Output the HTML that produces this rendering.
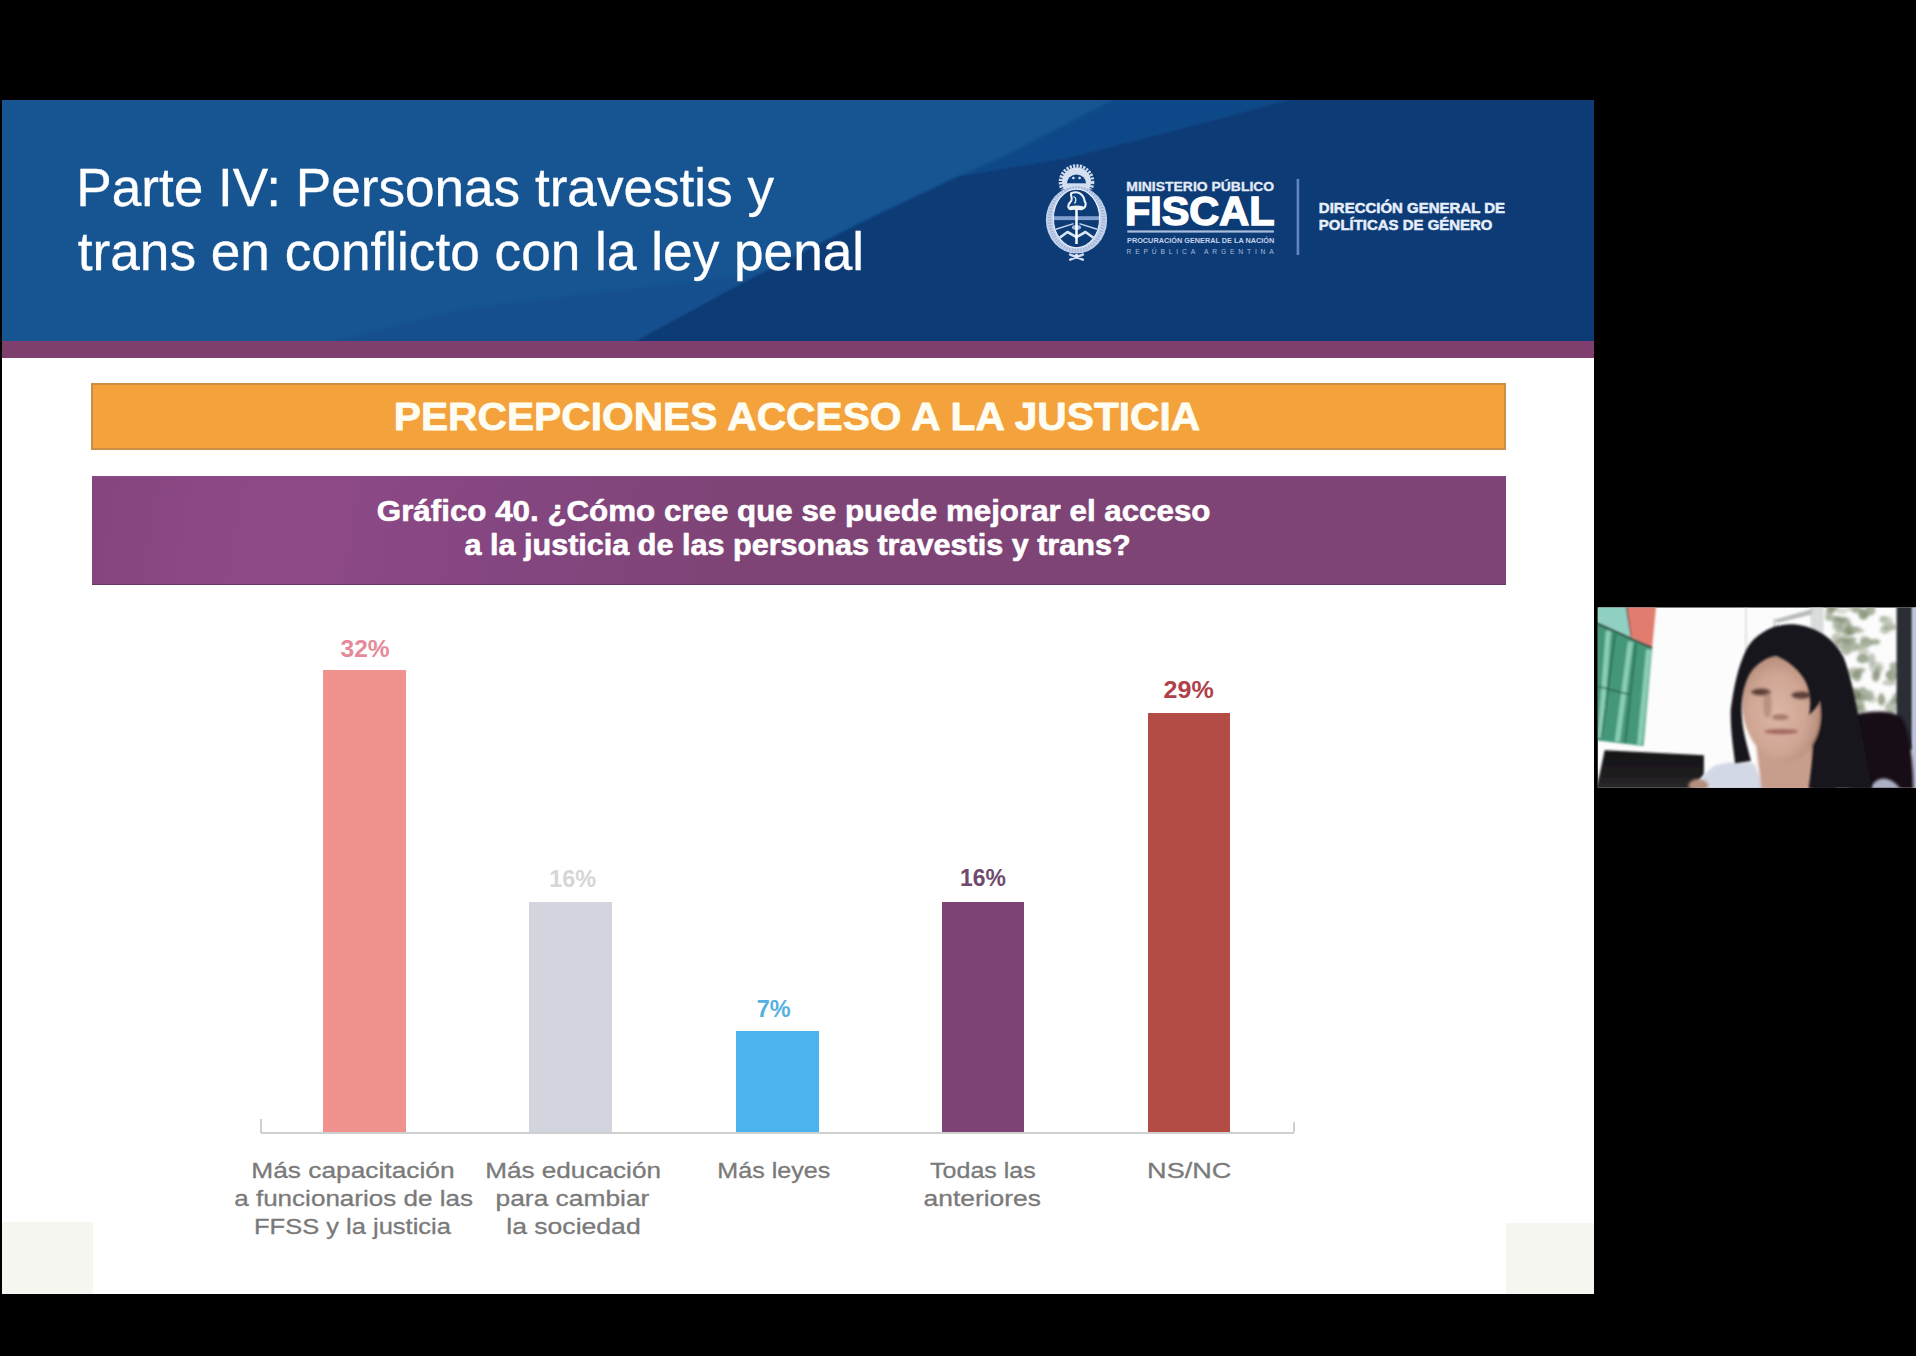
<!DOCTYPE html>
<html lang="es">
<head>
<meta charset="utf-8">
<title>Parte IV: Personas travestis y trans en conflicto con la ley penal</title>
<style>
  html,body{margin:0;padding:0;background:#000;}
  body{width:1916px;height:1356px;overflow:hidden;position:relative;font-family:"Liberation Sans",sans-serif;}
  #stage{position:absolute;left:0;top:0;width:1916px;height:1356px;background:#000;overflow:hidden;}
  #slide{position:absolute;left:2px;top:100px;width:1592px;height:1193.5px;background:#fff;overflow:hidden;}
  #hdr{position:absolute;left:0;top:0;width:1592px;height:242px;background:#165591;}
  #hdr svg{position:absolute;left:0;top:0;}
  #stripe{position:absolute;left:0;top:241px;width:1592px;height:16.8px;background:#7e3e6e;}
  .banner{position:absolute;box-sizing:border-box;}
  #orange{left:88.5px;top:283px;width:1415.5px;height:66.5px;background:#f4a23c;border:2px solid #cc8e44;}
  #purple{left:89.5px;top:376px;width:1414.5px;height:108.5px;background:linear-gradient(100deg,#86457f 0%,#8e4a88 14%,#844680 30%,#7f4476 45%,#7f4476 100%);border-bottom:1.5px solid #6a3a66;border-top:1px solid #8a4c84;}
  .bar{position:absolute;}
  .corner{position:absolute;background:#f6f6f0;}
  #axis{position:absolute;left:258.7px;top:1031.5px;width:1033.8px;height:2px;background:#cfcfcf;}
  .tick{position:absolute;width:2px;height:14px;top:1018.5px;background:#cfcfcf;}
  #texts{position:absolute;left:0;top:0;}
  #texts text{font-family:"Liberation Sans",sans-serif;white-space:pre;}
  #cam{position:absolute;left:1580px;top:590px;width:336px;height:220px;}
</style>
</head>
<body>
<div id="stage">
  <div id="slide">
    <div id="hdr">
      <svg width="1592" height="242" viewBox="2 100 1592 242">
        <defs><filter id="hb" x="-5%" y="-5%" width="110%" height="110%"><feGaussianBlur stdDeviation="1.2"/></filter></defs>
        <rect x="2" y="100" width="1592" height="242" fill="#165591"/>
        <g filter="url(#hb)">
        <polygon points="317,345 461,309 591,293.5 700,281 765,272 629,345" fill="#134f8e"/>
        <polygon points="629,345 737,286 860,223 959,176 1067,158 1180,129 1288,100 1288,90 1610,90 1610,345" fill="#083a76"/>
        <polygon points="959,176 1000,158 1113,100 1120,90 1288,90 1288,100 1180,129 1067,158" fill="#0d4888"/>
        </g>
      </svg>
    </div>
    <div id="stripe"></div>
    <div class="banner" id="orange"></div>
    <div class="banner" id="purple"></div>

    <div class="bar" style="left:321px;top:570px;width:83px;height:463px;background:#f0938e"></div>
    <div class="bar" style="left:527px;top:802.3px;width:83px;height:230.7px;background:#d3d5de"></div>
    <div class="bar" style="left:734px;top:931.4px;width:82.6px;height:101.6px;background:#4bb4ef"></div>
    <div class="bar" style="left:940.2px;top:801.5px;width:81.8px;height:231.5px;background:#7d4375"></div>
    <div class="bar" style="left:1146.2px;top:612.8px;width:82.2px;height:420.2px;background:#b24c44"></div>
    <div id="axis"></div>
    <div class="tick" style="left:257.7px"></div>
    <div class="tick" style="left:1290.5px;top:1022px;height:10px"></div>

    <div class="corner" style="left:0;top:1122px;width:91px;height:72px"></div>
    <div class="corner" style="left:1503.6px;top:1123px;width:89px;height:71px"></div>
  </div>

  <svg id="texts" width="1916" height="1356" viewBox="0 0 1916 1356">
    <g id="title">
<text id="t1" x="76.35" y="205.60" font-size="53.34" font-weight="normal" fill="#ffffff" textLength="697.65" lengthAdjust="spacingAndGlyphs" stroke="#ffffff" stroke-width="0.35">Parte IV: Personas travestis y</text>
<text id="t2" x="77.80" y="269.90" font-size="53.34" font-weight="normal" fill="#ffffff" textLength="786.31" lengthAdjust="spacingAndGlyphs" stroke="#ffffff" stroke-width="0.35">trans en conflicto con la ley penal</text>
    </g>
    <g id="logo">
      <g id="emblem">
        <defs>
          <clipPath id="sunclip"><rect x="1050" y="155" width="54" height="34.5"/></clipPath>
          <clipPath id="ovalclip"><ellipse cx="1076.5" cy="218.4" rx="22.6" ry="28.8"/></clipPath>
          <filter id="eb" x="-10%" y="-10%" width="120%" height="120%"><feGaussianBlur stdDeviation="0.45"/></filter>
        </defs>
        <g filter="url(#eb)">
        <!-- rising sun -->
        <g clip-path="url(#sunclip)">
          <circle cx="1076.5" cy="182" r="16" fill="none" stroke="#cfdbee" stroke-width="3.6" stroke-dasharray="2.2 1.2"/>
          <circle cx="1076.5" cy="182" r="14.6" fill="#d6e0f1"/>
          <circle cx="1076.5" cy="184.3" r="9.8" fill="#0b3f7e"/>
          <circle cx="1073.4" cy="178" r="1.25" fill="#e6edf8"/>
          <circle cx="1079.6" cy="178" r="1.25" fill="#e6edf8"/>
          <rect x="1064" y="183.3" width="25" height="6" fill="#d3def0"/>
        </g>
        <!-- laurel wreath -->
        <ellipse cx="1076.5" cy="220" rx="30.6" ry="33.6" fill="#c3d1ea"/>
        <ellipse cx="1076.5" cy="219.2" rx="27" ry="31.4" fill="none" stroke="#8ea9d3" stroke-width="3.6" stroke-dasharray="1.2 1.7" stroke-opacity="0.75"/>
        <ellipse cx="1076.5" cy="218.4" rx="23.1" ry="29.3" fill="#083a76" stroke="#e9eff9" stroke-width="1.1"/>
        <!-- shield contents -->
        <g clip-path="url(#ovalclip)">
          <rect x="1050" y="216.2" width="54" height="3.9" fill="#7f9fd0"/>
          <path d="M1054.3,229.8 L1073.6,223.6 M1079.4,223.6 L1098.7,229.8" stroke="#c9d6ec" stroke-width="1.5" fill="none"/>
          <path d="M1056.5,240 L1067.5,232 L1076.5,237.2 L1085.5,232 L1096.5,240" stroke="#dbe4f3" stroke-width="2.6" fill="none" stroke-linejoin="round"/>
          <ellipse cx="1076.5" cy="227.5" rx="4.6" ry="2.4" fill="#9fb6da"/>
        </g>
        <!-- pike -->
        <rect x="1075.25" y="207" width="2.5" height="37" fill="#ffffff"/>
        <!-- phrygian cap -->
        <path d="M1071.2,193.2 C1077.5,190.5 1083.5,194 1084.6,201 C1086.5,203.5 1086,208 1082,209 C1078.5,210 1075,207.5 1072.5,208.8 C1069.5,210 1067.5,207.5 1068.6,204.6 C1069.2,202.8 1071,202 1071.6,200 C1072.4,197.6 1070.2,195.5 1071.2,193.2 Z" fill="#0b3f7e" stroke="#edf2fa" stroke-width="2.1" stroke-linejoin="round"/>
        <path d="M1073.5,196.5 C1077,198 1076,201.5 1074.5,203.5" stroke="#edf2fa" stroke-width="1.3" fill="none"/>
        <ellipse cx="1076.6" cy="207.6" rx="7.6" ry="2.2" fill="#edf2fa"/>
        <!-- ribbon bow -->
        <path d="M1070.2,254.6 L1082.8,259.6 M1082.8,254.6 L1070.2,259.6" stroke="#cfdbee" stroke-width="2.6" stroke-linecap="round" fill="none"/>
        <circle cx="1076.5" cy="256.4" r="2.3" fill="#dfe7f5"/>
        </g>
      </g>

<text id="lg1" x="1126.33" y="190.90" font-size="12.79" font-weight="bold" fill="#e4ecf7" textLength="147.86" lengthAdjust="spacingAndGlyphs" stroke="#e4ecf7" stroke-width="0.3">MINISTERIO PÚBLICO</text>
<text id="lg2" x="1124.91" y="225.40" font-size="40.99" font-weight="bold" fill="#ffffff" textLength="149.60" lengthAdjust="spacingAndGlyphs" stroke="#ffffff" stroke-width="1.5" paint-order="stroke" stroke-linejoin="miter">FISCAL</text>
<text id="lg3" x="1127.04" y="243.30" font-size="6.54" font-weight="bold" fill="#c5d3ea" textLength="147.23" lengthAdjust="spacingAndGlyphs">PROCURACIÓN GENERAL DE LA NACIÓN</text>
<text id="lg4" x="1126.52" y="254.00" font-size="6.69" font-weight="normal" fill="#a9bcdc" textLength="147.22" lengthAdjust="spacing">REPÚBLICA ARGENTINA</text>
<text id="lg5" x="1318.86" y="212.80" font-size="14.83" font-weight="bold" fill="#e6eefa" textLength="186.23" lengthAdjust="spacingAndGlyphs" stroke="#e6eefa" stroke-width="0.5">DIRECCIÓN GENERAL DE</text>
<text id="lg6" x="1318.87" y="230.30" font-size="14.83" font-weight="bold" fill="#e6eefa" textLength="173.55" lengthAdjust="spacingAndGlyphs" stroke="#e6eefa" stroke-width="0.5">POLÍTICAS DE GÉNERO</text>
      <rect x="1127.3" y="230.4" width="146.6" height="2.2" fill="#a9bedd"/>
      <rect x="1296.6" y="179" width="2.6" height="76" fill="#5f86be"/>
    </g>
    <g id="banners">
<text id="b1" x="393.77" y="429.80" font-size="39.53" font-weight="bold" fill="#fffdf2" textLength="806.50" lengthAdjust="spacingAndGlyphs" stroke="#fffdf2" stroke-width="0.8" stroke-linejoin="round">PERCEPCIONES ACCESO A LA JUSTICIA</text>
<text id="b2" x="376.82" y="521.40" font-size="29.07" font-weight="bold" fill="#ffffff" textLength="833.70" lengthAdjust="spacingAndGlyphs" stroke="#ffffff" stroke-width="0.6" stroke-linejoin="round">Gráfico 40. ¿Cómo cree que se puede mejorar el acceso</text>
<text id="b3" x="464.52" y="555.30" font-size="29.07" font-weight="bold" fill="#ffffff" textLength="666.06" lengthAdjust="spacingAndGlyphs" stroke="#ffffff" stroke-width="0.6" stroke-linejoin="round">a la justicia de las personas travestis y trans?</text>
    </g>
    <g id="values">
<text id="v1" x="340.52" y="656.80" font-size="24.42" font-weight="bold" fill="#e58a9a" textLength="49.13" lengthAdjust="spacingAndGlyphs">32%</text>
<text id="v2" x="549.24" y="887.20" font-size="24.42" font-weight="bold" fill="#d6d6d6" textLength="46.90" lengthAdjust="spacingAndGlyphs">16%</text>
<text id="v3" x="756.67" y="1016.80" font-size="24.42" font-weight="bold" fill="#56b0e0" textLength="33.86" lengthAdjust="spacingAndGlyphs">7%</text>
<text id="v4" x="960.07" y="885.50" font-size="24.42" font-weight="bold" fill="#6e4a6e" textLength="45.86" lengthAdjust="spacingAndGlyphs">16%</text>
<text id="v5" x="1163.52" y="698.40" font-size="24.42" font-weight="bold" fill="#b0404a" textLength="50.24" lengthAdjust="spacingAndGlyphs">29%</text>
    </g>
    <g id="axislabels">
<text id="a1" x="251.34" y="1177.70" font-size="21.80" font-weight="normal" fill="#7a7a7a" textLength="203.23" lengthAdjust="spacingAndGlyphs" stroke="#7a7a7a" stroke-width="0.3">Más capacitación</text>
<text id="a2" x="234.19" y="1206.40" font-size="21.80" font-weight="normal" fill="#7a7a7a" textLength="238.83" lengthAdjust="spacingAndGlyphs" stroke="#7a7a7a" stroke-width="0.3">a funcionarios de las</text>
<text id="a3" x="254.01" y="1233.80" font-size="21.80" font-weight="normal" fill="#7a7a7a" textLength="196.93" lengthAdjust="spacingAndGlyphs" stroke="#7a7a7a" stroke-width="0.3">FFSS y la justicia</text>
<text id="a4" x="485.16" y="1177.70" font-size="21.80" font-weight="normal" fill="#7a7a7a" textLength="175.81" lengthAdjust="spacingAndGlyphs" stroke="#7a7a7a" stroke-width="0.3">Más educación</text>
<text id="a5" x="495.55" y="1206.40" font-size="21.80" font-weight="normal" fill="#7a7a7a" textLength="153.78" lengthAdjust="spacingAndGlyphs" stroke="#7a7a7a" stroke-width="0.3">para cambiar</text>
<text id="a6" x="506.24" y="1233.80" font-size="21.80" font-weight="normal" fill="#7a7a7a" textLength="134.45" lengthAdjust="spacingAndGlyphs" stroke="#7a7a7a" stroke-width="0.3">la sociedad</text>
<text id="a7" x="717.34" y="1177.70" font-size="21.80" font-weight="normal" fill="#7a7a7a" textLength="112.94" lengthAdjust="spacingAndGlyphs" stroke="#7a7a7a" stroke-width="0.3">Más leyes</text>
<text id="a8" x="930.11" y="1177.70" font-size="21.80" font-weight="normal" fill="#7a7a7a" textLength="105.67" lengthAdjust="spacingAndGlyphs" stroke="#7a7a7a" stroke-width="0.3">Todas las</text>
<text id="a9" x="923.58" y="1206.40" font-size="21.80" font-weight="normal" fill="#7a7a7a" textLength="117.25" lengthAdjust="spacingAndGlyphs" stroke="#7a7a7a" stroke-width="0.3">anteriores</text>
<text id="a10" x="1147.08" y="1177.70" font-size="21.80" font-weight="normal" fill="#7a7a7a" textLength="84.25" lengthAdjust="spacingAndGlyphs" stroke="#7a7a7a" stroke-width="0.3">NS/NC</text>
    </g>
  </svg>

  <svg id="cam" width="336" height="220" viewBox="1580 590 336 220">
    <defs>
      <clipPath id="camclip"><rect x="1597.8" y="607.5" width="318.2" height="180.3"/></clipPath>
      <filter id="cb1" x="-10%" y="-10%" width="120%" height="120%"><feGaussianBlur stdDeviation="7"/></filter>
      <filter id="cb2" x="-20%" y="-20%" width="140%" height="140%"><feGaussianBlur stdDeviation="12"/></filter>
      <filter id="cb3" x="-20%" y="-20%" width="140%" height="140%"><feGaussianBlur stdDeviation="22"/></filter>
      <linearGradient id="mon" x1="0" y1="0" x2="0" y2="1"><stop offset="0" stop-color="#141416"/><stop offset="0.6" stop-color="#1d1c1f"/><stop offset="1" stop-color="#2b292b"/></linearGradient>
      <radialGradient id="face" cx="0.45" cy="0.55" r="0.6"><stop offset="0" stop-color="#dcb7a6"/><stop offset="0.6" stop-color="#cfa593"/><stop offset="1" stop-color="#b08774"/></radialGradient>
    </defs>
    <g clip-path="url(#camclip)">
      <rect x="1597" y="607" width="320" height="182" fill="#fcfcfc"/>
      <!-- left half : painting, wall, monitor -->
      <g transform="translate(1590,600) scale(0.14382)">
        <g filter="url(#cb1)">
          <polygon points="40,40 255,40 278,255 40,150" fill="#8fd0c2"/>
          <polygon points="252,40 460,40 432,328 285,255" fill="#e07d6e"/>
          <polygon points="40,158 432,332 372,1016 40,976" fill="#45977a"/>
          <g stroke="#9adcc2" stroke-width="36" fill="none" stroke-opacity="0.8">
            <path d="M128,215 L70,960"/>
            <path d="M282,290 L190,985"/>
            <path d="M408,345 L345,1005"/>
          </g>
          <g stroke="#1f5c46" stroke-width="9" fill="none">
            <path d="M175,235 L80,965"/>
            <path d="M320,300 L245,995"/>
            <path d="M55,600 L275,658"/>
          </g>
          <path d="M40,158 L432,332" stroke="#12241e" stroke-width="13" fill="none"/>
          <path d="M253,45 L285,255" stroke="#5a2e2a" stroke-width="8" fill="none"/>
          <polygon points="102,1044 792,1080 792,1218 700,1320 40,1320 70,1200" fill="url(#mon)"/>
        </g>
      </g>
      <!-- right half : window, tree, person -->
      <g transform="translate(1720,600) scale(0.1438)">
        <!-- window frame hints -->
        <g filter="url(#cb1)">
          <rect x="176" y="40" width="10" height="400" fill="#d6d8d6"/>
          <rect x="628" y="40" width="92" height="300" fill="#d9dcdc"/>
          <path d="M380,135 L640,62 L640,100 L400,160 Z" fill="#b9bdb9"/>
          <rect x="372" y="130" width="14" height="120" fill="#c5c8c5"/>
        </g>
        <!-- foliage -->
        <g filter="url(#cb2)">
          <ellipse cx="847" cy="77" rx="43" ry="20" fill="#b0b8a4" fill-opacity="0.49"/>
          <ellipse cx="925" cy="214" rx="29" ry="20" fill="#7a866c" fill-opacity="0.48"/>
          <ellipse cx="777" cy="126" rx="49" ry="21" fill="#96a189" fill-opacity="0.70"/>
          <ellipse cx="925" cy="61" rx="41" ry="19" fill="#96a189" fill-opacity="0.47"/>
          <ellipse cx="1008" cy="102" rx="27" ry="21" fill="#a3ad98" fill-opacity="0.67"/>
          <ellipse cx="955" cy="69" rx="41" ry="23" fill="#87937a" fill-opacity="0.67"/>
          <ellipse cx="769" cy="61" rx="29" ry="36" fill="#7a866c" fill-opacity="0.76"/>
          <ellipse cx="890" cy="216" rx="34" ry="25" fill="#96a189" fill-opacity="0.73"/>
          <ellipse cx="823" cy="153" rx="39" ry="42" fill="#7a866c" fill-opacity="0.57"/>
          <ellipse cx="1044" cy="71" rx="36" ry="38" fill="#96a189" fill-opacity="0.82"/>
          <ellipse cx="877" cy="223" rx="25" ry="33" fill="#a3ad98" fill-opacity="0.59"/>
          <ellipse cx="855" cy="139" rx="48" ry="20" fill="#87937a" fill-opacity="0.83"/>
          <ellipse cx="892" cy="170" rx="24" ry="37" fill="#b0b8a4" fill-opacity="0.85"/>
          <ellipse cx="997" cy="101" rx="35" ry="36" fill="#87937a" fill-opacity="0.83"/>
          <ellipse cx="925" cy="327" rx="38" ry="24" fill="#a3ad98" fill-opacity="0.50"/>
          <ellipse cx="899" cy="274" rx="51" ry="20" fill="#7a866c" fill-opacity="0.61"/>
          <ellipse cx="907" cy="213" rx="36" ry="33" fill="#7a866c" fill-opacity="0.84"/>
          <ellipse cx="1004" cy="271" rx="30" ry="20" fill="#96a189" fill-opacity="0.54"/>
          <ellipse cx="896" cy="296" rx="41" ry="25" fill="#87937a" fill-opacity="0.51"/>
          <ellipse cx="968" cy="326" rx="33" ry="21" fill="#b0b8a4" fill-opacity="0.83"/>
          <ellipse cx="997" cy="358" rx="37" ry="42" fill="#b0b8a4" fill-opacity="0.61"/>
          <ellipse cx="936" cy="205" rx="43" ry="20" fill="#87937a" fill-opacity="0.84"/>
          <ellipse cx="946" cy="206" rx="42" ry="21" fill="#b0b8a4" fill-opacity="0.51"/>
          <ellipse cx="864" cy="267" rx="23" ry="42" fill="#b0b8a4" fill-opacity="0.60"/>
          <ellipse cx="992" cy="409" rx="42" ry="31" fill="#87937a" fill-opacity="0.79"/>
          <ellipse cx="1078" cy="292" rx="38" ry="20" fill="#87937a" fill-opacity="0.75"/>
          <ellipse cx="1018" cy="295" rx="45" ry="32" fill="#96a189" fill-opacity="0.83"/>
          <ellipse cx="967" cy="215" rx="40" ry="19" fill="#b0b8a4" fill-opacity="0.57"/>
          <ellipse cx="870" cy="186" rx="50" ry="32" fill="#96a189" fill-opacity="0.59"/>
          <ellipse cx="811" cy="267" rx="39" ry="35" fill="#b0b8a4" fill-opacity="0.77"/>
          <ellipse cx="918" cy="323" rx="49" ry="40" fill="#96a189" fill-opacity="0.53"/>
          <ellipse cx="849" cy="302" rx="55" ry="39" fill="#7a866c" fill-opacity="0.55"/>
          <ellipse cx="877" cy="342" rx="37" ry="43" fill="#a3ad98" fill-opacity="0.83"/>
          <ellipse cx="831" cy="210" rx="29" ry="23" fill="#96a189" fill-opacity="0.64"/>
          <ellipse cx="1097" cy="498" rx="22" ry="43" fill="#a3ad98" fill-opacity="0.77"/>
          <ellipse cx="935" cy="506" rx="52" ry="39" fill="#96a189" fill-opacity="0.64"/>
          <ellipse cx="952" cy="526" rx="33" ry="40" fill="#7a866c" fill-opacity="0.64"/>
          <ellipse cx="1054" cy="414" rx="27" ry="45" fill="#87937a" fill-opacity="0.51"/>
          <ellipse cx="1083" cy="529" rx="27" ry="40" fill="#7a866c" fill-opacity="0.71"/>
          <ellipse cx="983" cy="488" rx="26" ry="18" fill="#87937a" fill-opacity="0.66"/>
          <ellipse cx="1088" cy="469" rx="51" ry="40" fill="#96a189" fill-opacity="0.46"/>
          <ellipse cx="1154" cy="140" rx="47" ry="27" fill="#b0b8a4" fill-opacity="0.62"/>
          <ellipse cx="1147" cy="206" rx="34" ry="30" fill="#b0b8a4" fill-opacity="0.78"/>
          <ellipse cx="1182" cy="192" rx="51" ry="22" fill="#96a189" fill-opacity="0.66"/>
          <ellipse cx="1137" cy="130" rx="28" ry="18" fill="#96a189" fill-opacity="0.52"/>
          <ellipse cx="1178" cy="176" rx="40" ry="27" fill="#b0b8a4" fill-opacity="0.66"/>
          <ellipse cx="1178" cy="575" rx="51" ry="20" fill="#96a189" fill-opacity="0.56"/>
          <ellipse cx="1205" cy="522" rx="41" ry="39" fill="#87937a" fill-opacity="0.63"/>
          <ellipse cx="1190" cy="521" rx="39" ry="37" fill="#7a866c" fill-opacity="0.65"/>
          <ellipse cx="1208" cy="522" rx="30" ry="32" fill="#a3ad98" fill-opacity="0.82"/>
          <ellipse cx="1215" cy="461" rx="37" ry="29" fill="#7a866c" fill-opacity="0.63"/>
          <ellipse cx="935" cy="646" rx="24" ry="36" fill="#87937a" fill-opacity="0.81"/>
          <ellipse cx="963" cy="727" rx="44" ry="22" fill="#96a189" fill-opacity="0.84"/>
          <ellipse cx="985" cy="767" rx="35" ry="31" fill="#96a189" fill-opacity="0.51"/>
          <ellipse cx="1057" cy="693" rx="33" ry="23" fill="#a3ad98" fill-opacity="0.49"/>
          <ellipse cx="1034" cy="662" rx="37" ry="37" fill="#7a866c" fill-opacity="0.58"/>
          <ellipse cx="1122" cy="692" rx="24" ry="45" fill="#96a189" fill-opacity="0.84"/>
          <ellipse cx="946" cy="650" rx="23" ry="39" fill="#a3ad98" fill-opacity="0.75"/>
          <ellipse cx="1189" cy="749" rx="44" ry="44" fill="#7a866c" fill-opacity="0.51"/>
          <ellipse cx="1223" cy="702" rx="45" ry="20" fill="#87937a" fill-opacity="0.77"/>
          <ellipse cx="972" cy="757" rx="31" ry="18" fill="#87937a" fill-opacity="0.77"/>
          <ellipse cx="938" cy="751" rx="24" ry="41" fill="#7a866c" fill-opacity="0.45"/>
          <ellipse cx="1248" cy="676" rx="52" ry="35" fill="#87937a" fill-opacity="0.66"/>
          <ellipse cx="991" cy="624" rx="27" ry="19" fill="#96a189" fill-opacity="0.82"/>
          <ellipse cx="1124" cy="695" rx="29" ry="30" fill="#96a189" fill-opacity="0.56"/>
          <ellipse cx="1183" cy="774" rx="23" ry="18" fill="#b0b8a4" fill-opacity="0.67"/>
          <ellipse cx="974" cy="686" rx="53" ry="21" fill="#7a866c" fill-opacity="0.71"/>
          <ellipse cx="966" cy="667" rx="54" ry="26" fill="#96a189" fill-opacity="0.84"/>
          <ellipse cx="941" cy="660" rx="45" ry="35" fill="#7a866c" fill-opacity="0.85"/>
          <ellipse cx="1018" cy="660" rx="22" ry="35" fill="#a3ad98" fill-opacity="0.62"/>
          <ellipse cx="907" cy="640" rx="35" ry="32" fill="#a3ad98" fill-opacity="0.69"/>
          <ellipse cx="795" cy="56" rx="28" ry="25" fill="#87937a" fill-opacity="0.56"/>
          <ellipse cx="817" cy="186" rx="40" ry="25" fill="#a3ad98" fill-opacity="0.54"/>
          <ellipse cx="755" cy="97" rx="25" ry="26" fill="#96a189" fill-opacity="0.55"/>
        </g>
        <!-- dark post at right -->
        <g filter="url(#cb1)">
          <rect x="1228" y="40" width="108" height="1000" fill="#2b2d36"/>
          <rect x="1340" y="40" width="40" height="1300" fill="#b9c2da"/>
        </g>
        <!-- chair -->
        <g filter="url(#cb2)">
          <path d="M930,800 C1050,760 1200,770 1260,810 C1320,900 1345,1100 1345,1320 L900,1320 Z" fill="#131114"/>
        </g>
        <!-- clothes -->
        <g filter="url(#cb2)">
          <path d="M-200,1330 C-150,1260 -90,1180 -30,1150 C60,1120 180,1120 240,1140 L320,1330 Z" fill="#d3d8e6"/>
          <ellipse cx="-150" cy="1290" rx="70" ry="45" fill="#b58f7c"/>
          <path d="M1040,1320 C1080,1220 1180,1210 1260,1320 Z" fill="#aab0c4"/>
        </g>
        <!-- neck and face -->
        <g filter="url(#cb2)">
          <path d="M600,480 L800,480 L800,1330 L600,1330 Z" fill="#17121a"/>
          <path d="M250,1000 L640,980 L640,1330 L290,1330 Z" fill="#c79d8b"/>
          <path d="M370,380 C480,380 610,470 670,620 C720,760 710,900 640,1010 C580,1100 500,1140 420,1130 C320,1110 230,1020 180,880 C140,760 140,640 170,560 C210,450 280,380 370,380 Z" fill="url(#face)"/>
          <ellipse cx="285" cy="640" rx="70" ry="26" fill="#4a2f2a" fill-opacity="0.85"/>
          <ellipse cx="565" cy="662" rx="70" ry="28" fill="#4a2f2a" fill-opacity="0.85"/>
          <ellipse cx="420" cy="815" rx="60" ry="22" fill="#9c6f60" fill-opacity="0.8"/>
          <ellipse cx="425" cy="915" rx="120" ry="20" fill="#a05f5c" fill-opacity="0.9"/>
          <ellipse cx="330" cy="730" rx="30" ry="90" fill="#a97f6e" fill-opacity="0.6"/>
        </g>
        <!-- hair -->
        <g filter="url(#cb1)">
          <path d="M500,168 C380,165 250,230 185,340 C120,470 95,620 75,760 C70,900 95,1040 105,1135 L215,1120 C190,1010 150,900 150,760 C150,660 175,560 215,500 C260,440 320,400 390,390 C470,420 530,470 580,540 C620,600 640,700 620,800 C680,740 700,700 705,690 C730,800 720,930 660,1040 C640,1120 625,1250 615,1330 L1060,1330 C1040,1200 1000,1000 960,790 C930,640 900,500 860,400 C800,270 660,175 500,168 Z" fill="#17121a"/>
        </g>
      </g>
    </g>
  </svg>

</div>
</body>
</html>
